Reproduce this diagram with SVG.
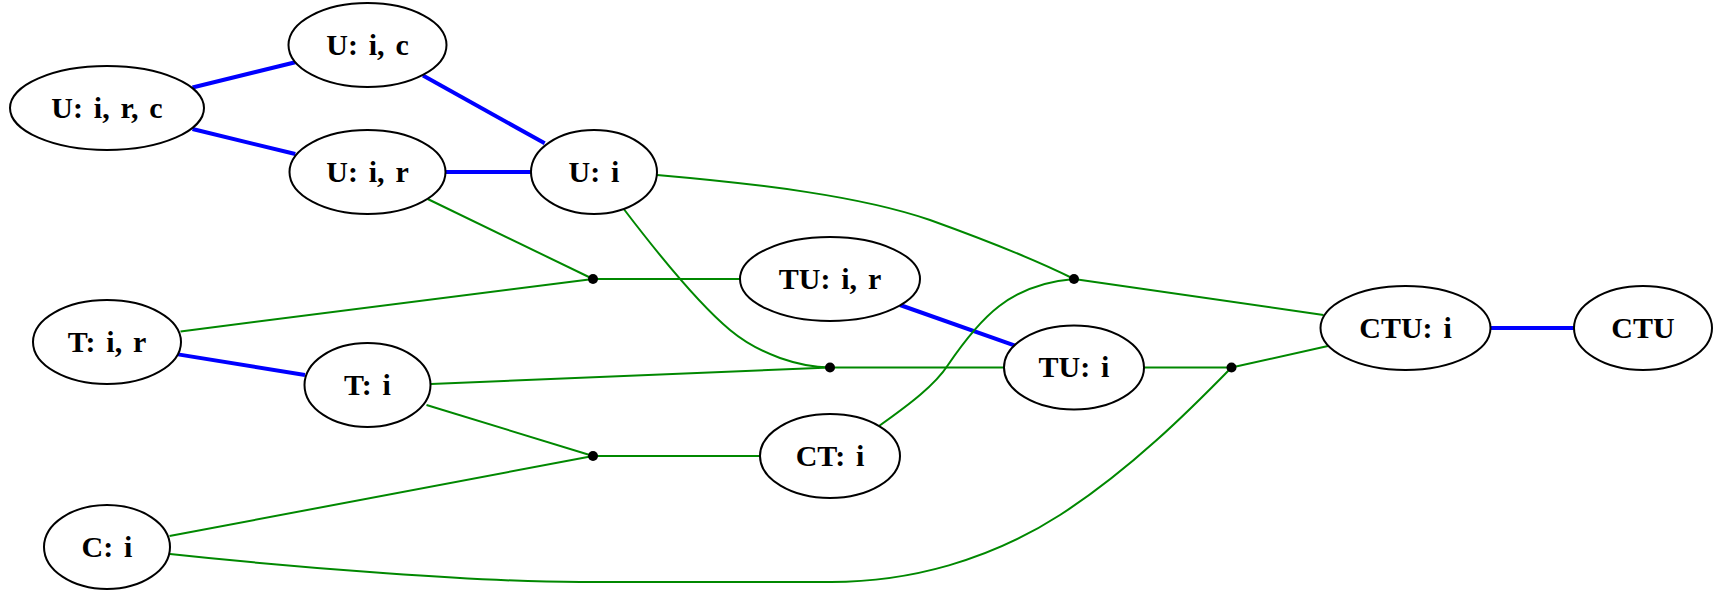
<svg xmlns="http://www.w3.org/2000/svg" width="1715" height="592" viewBox="0 0 1715 592">
  <style>
    .node ellipse { fill: #ffffff; stroke: #000000; stroke-width: 2; }
    .node text { font-family: "Liberation Serif", "Times New Roman", serif; font-weight: bold; font-size: 30px; word-spacing: 3.3px; text-anchor: middle; fill: #000000; }
    .blue { stroke: #0000ff; stroke-width: 4; fill: none; }
    .green { stroke: #008800; stroke-width: 2; fill: none; }
    .joint { fill: #000000; }
  </style>
  <rect x="0" y="0" width="1715" height="592" fill="#ffffff"/>

  <g id="connectors">
    <!-- blue refinement edges -->
    <line class="blue" x1="192.5" y1="87.5" x2="295.3" y2="62.3"/>
    <line class="blue" x1="192.5" y1="129" x2="295.3" y2="154"/>
    <line class="blue" x1="423" y1="75.5" x2="544.7" y2="143.3"/>
    <line class="blue" x1="445.5" y1="172" x2="531" y2="172"/>
    <line class="blue" x1="178" y1="354.4" x2="305" y2="375"/>
    <line class="blue" x1="900" y1="305" x2="1015" y2="345.6"/>
    <line class="blue" x1="1491" y1="328" x2="1574" y2="328"/>

    <!-- green join edges -->
    <line class="green" x1="427.7" y1="199" x2="593" y2="279"/>
    <line class="green" x1="180.5" y1="331.4" x2="593" y2="279"/>
    <line class="green" x1="593" y1="279" x2="740" y2="279"/>
    <path class="green" d="M623,208 C655,250 700,305 730,330 C760,355 800,367 830,367.5"/>
    <line class="green" x1="431" y1="384" x2="830" y2="367.5"/>
    <line class="green" x1="830" y1="367.5" x2="1004" y2="367.5"/>
    <path class="green" d="M657,175 C760,184 860,196 930,220 C980,238 1040,262 1074,279"/>
    <path class="green" d="M879,426 C910,404 935,385 948,365 C980,318 1010,284 1074,279"/>
    <line class="green" x1="1074" y1="279" x2="1323.5" y2="315"/>
    <line class="green" x1="1144" y1="367.5" x2="1231.5" y2="367.5"/>
    <path class="green" d="M170,554 C300,568 480,582 580,582 L831,582 C910,582 990,560 1060,515 C1130,470 1190,410 1231.5,367.5"/>
    <line class="green" x1="1231.5" y1="367.5" x2="1328" y2="346"/>
    <line class="green" x1="426.5" y1="405" x2="593" y2="456"/>
    <line class="green" x1="169.5" y1="536" x2="593" y2="456"/>
    <line class="green" x1="593" y1="456" x2="760" y2="456"/>

    <!-- junction points -->
    <circle class="joint" cx="593" cy="279" r="5"/>
    <circle class="joint" cx="830" cy="367.5" r="5"/>
    <circle class="joint" cx="1074" cy="279" r="5"/>
    <circle class="joint" cx="1231.5" cy="367.5" r="5"/>
    <circle class="joint" cx="593" cy="456" r="5"/>
  </g>

  <g id="U_irc" class="node">
    <ellipse cx="107" cy="108" rx="97" ry="42"/>
    <text x="107" y="117.5">U: i, r, c</text>
  </g>
  <g id="U_ic" class="node">
    <ellipse cx="367.5" cy="45" rx="79" ry="42"/>
    <text x="367.5" y="54.5">U: i, c</text>
  </g>
  <g id="U_ir" class="node">
    <ellipse cx="367.5" cy="172" rx="78" ry="42"/>
    <text x="367.5" y="181.5">U: i, r</text>
  </g>
  <g id="U_i" class="node">
    <ellipse cx="594" cy="172" rx="63" ry="42"/>
    <text x="594" y="181.5">U: i</text>
  </g>
  <g id="TU_ir" class="node">
    <ellipse cx="830" cy="279" rx="90" ry="42"/>
    <text x="830" y="288.5">TU: i, r</text>
  </g>
  <g id="T_ir" class="node">
    <ellipse cx="107" cy="342" rx="74" ry="42"/>
    <text x="107" y="351.5">T: i, r</text>
  </g>
  <g id="T_i" class="node">
    <ellipse cx="367.5" cy="385" rx="63" ry="42"/>
    <text x="367.5" y="394.5">T: i</text>
  </g>
  <g id="TU_i" class="node">
    <ellipse cx="1074" cy="367.5" rx="70" ry="42"/>
    <text x="1074" y="377">TU: i</text>
  </g>
  <g id="CT_i" class="node">
    <ellipse cx="830" cy="456" rx="70" ry="42"/>
    <text x="830" y="465.5">CT: i</text>
  </g>
  <g id="C_i" class="node">
    <ellipse cx="107" cy="547" rx="63" ry="42"/>
    <text x="107" y="556.5">C: i</text>
  </g>
  <g id="CTU_i" class="node">
    <ellipse cx="1405.5" cy="328" rx="85" ry="42"/>
    <text x="1405.5" y="337.5">CTU: i</text>
  </g>
  <g id="CTU" class="node">
    <ellipse cx="1643" cy="328" rx="69" ry="42"/>
    <text x="1643" y="337.5">CTU</text>
  </g>
</svg>
